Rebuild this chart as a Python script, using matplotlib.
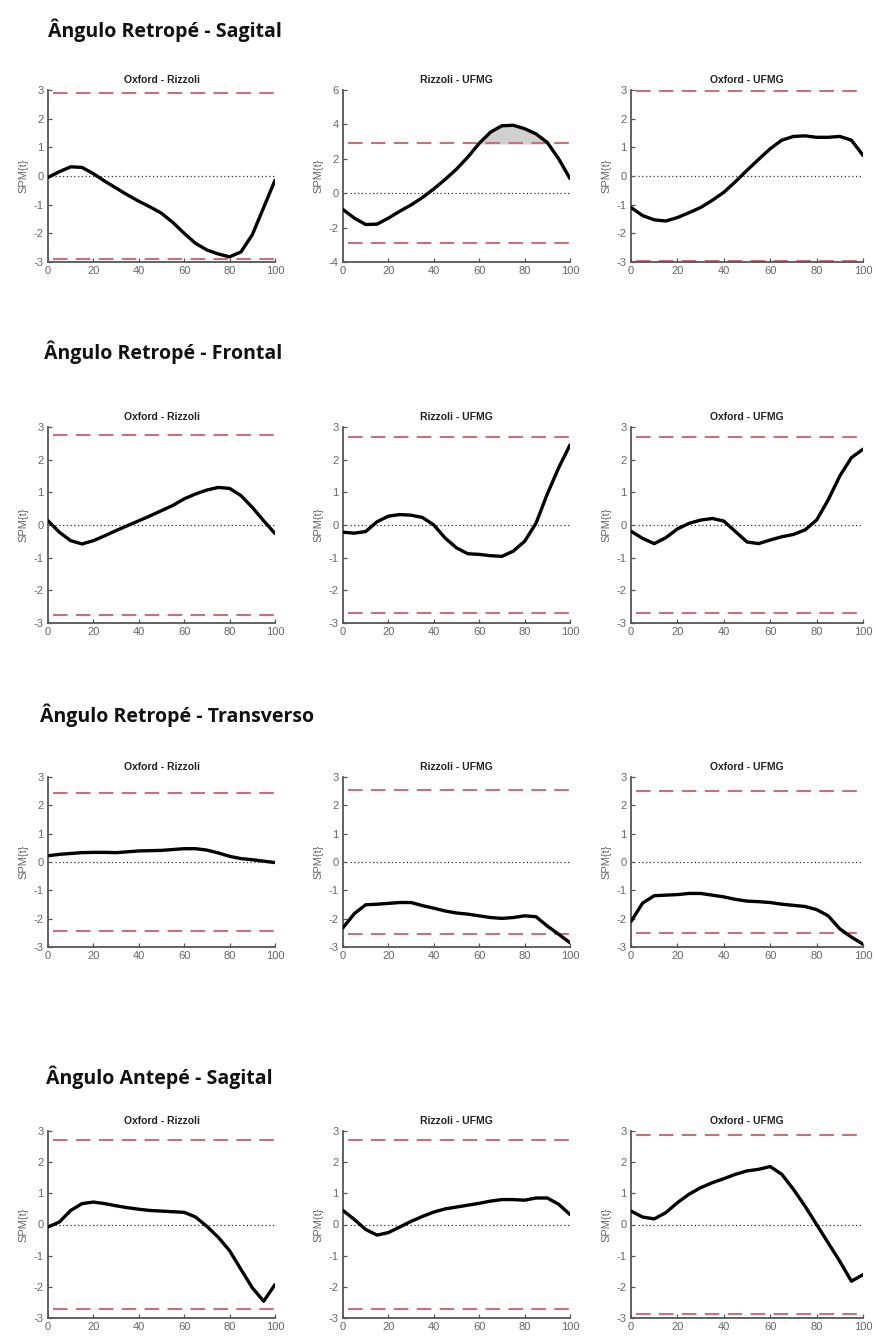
import numpy as np
import matplotlib.pyplot as plt

plt.rcParams['axes.unicode_minus'] = False

# eixo x (% do ciclo)
x = [0, 5, 10, 15, 20, 25, 30, 35, 40, 45, 50, 55, 60, 65, 70, 75, 80, 85, 90, 95, 100]

section_titles = ["Ângulo Retropé - Sagital", "Ângulo Retropé - Frontal",
                  "Ângulo Retropé - Transverso", "Ângulo Antepé - Sagital"]
panel_titles = ["Oxford - Rizzoli", "Rizzoli - UFMG", "Oxford - UFMG"]

# Retropé - Sagital
rs_oxf_riz = [-0.05, 0.15, 0.32, 0.3, 0.08, -0.18, -0.42, -0.66, -0.88, -1.08, -1.3,
              -1.62, -2.0, -2.35, -2.58, -2.72, -2.82, -2.65, -2.05, -1.1, -0.15]
rs_riz_ufmg = [-0.95, -1.45, -1.82, -1.8, -1.45, -1.05, -0.68, -0.25, 0.25, 0.8, 1.4,
               2.1, 2.9, 3.55, 3.92, 3.95, 3.75, 3.45, 2.95, 2.0, 0.85]
rs_oxf_ufmg = [-1.1, -1.38, -1.53, -1.57, -1.45, -1.28, -1.1, -0.85, -0.57, -0.2, 0.2,
               0.58, 0.95, 1.25, 1.38, 1.4, 1.35, 1.35, 1.38, 1.25, 0.72]

# Retropé - Frontal
rf_oxf_riz = [0.13, -0.22, -0.48, -0.58, -0.48, -0.33, -0.17, -0.02, 0.13, 0.28, 0.44,
              0.6, 0.8, 0.95, 1.07, 1.15, 1.12, 0.9, 0.54, 0.13, -0.26]
rf_riz_ufmg = [-0.22, -0.25, -0.2, 0.1, 0.27, 0.32, 0.3, 0.23, 0.0, -0.4, -0.7,
               -0.88, -0.9, -0.94, -0.96, -0.8, -0.5, 0.05, 0.95, 1.75, 2.45]
rf_oxf_ufmg = [-0.19, -0.41, -0.57, -0.39, -0.12, 0.05, 0.15, 0.2, 0.12, -0.2, -0.52,
               -0.57, -0.46, -0.36, -0.29, -0.15, 0.15, 0.77, 1.5, 2.06, 2.32]

# Retropé - Transverso
rt_oxf_riz = [0.22, 0.27, 0.3, 0.33, 0.34, 0.34, 0.33, 0.36, 0.39, 0.4, 0.41,
              0.44, 0.47, 0.47, 0.42, 0.32, 0.2, 0.12, 0.08, 0.03, -0.02]
rt_riz_ufmg = [-2.32, -1.82, -1.51, -1.49, -1.46, -1.43, -1.43, -1.54, -1.63, -1.73, -1.8,
               -1.84, -1.9, -1.96, -1.99, -1.96, -1.9, -1.93, -2.26, -2.55, -2.85]
rt_oxf_ufmg = [-2.1, -1.45, -1.19, -1.17, -1.15, -1.11, -1.11, -1.17, -1.23, -1.32, -1.38,
               -1.4, -1.43, -1.49, -1.53, -1.57, -1.68, -1.9, -2.36, -2.65, -2.9]

# Antepé - Sagital
as_oxf_riz = [-0.08, 0.08, 0.45, 0.67, 0.72, 0.67, 0.6, 0.54, 0.49, 0.45, 0.43,
              0.41, 0.39, 0.24, -0.06, -0.41, -0.84, -1.44, -2.03, -2.46, -1.93]
as_riz_ufmg = [0.45, 0.16, -0.16, -0.34, -0.26, -0.08, 0.1, 0.26, 0.4, 0.5, 0.56,
               0.62, 0.68, 0.75, 0.8, 0.8, 0.78, 0.85, 0.85, 0.65, 0.32]
as_oxf_ufmg = [0.43, 0.24, 0.18, 0.38, 0.7, 0.97, 1.18, 1.34, 1.47, 1.61, 1.72,
               1.77, 1.86, 1.61, 1.13, 0.59, 0.0, -0.59, -1.18, -1.82, -1.61]

curves = [[rs_oxf_riz, rs_riz_ufmg, rs_oxf_ufmg],
          [rf_oxf_riz, rf_riz_ufmg, rf_oxf_ufmg],
          [rt_oxf_riz, rt_riz_ufmg, rt_oxf_ufmg],
          [as_oxf_riz, as_riz_ufmg, as_oxf_ufmg]]

# limiar crítico t*
thresholds = [[2.88, 2.9, 2.95],
              [2.75, 2.7, 2.7],
              [2.42, 2.55, 2.52],
              [2.7, 2.72, 2.88]]

W, H = 876, 1340
fig = plt.figure(figsize=(W / 100, H / 100), dpi=100)

col_left = [48, 343, 631]
col_width = [227, 227, 232]
row_top = [90, 427, 777, 1131]
row_bottom = [262, 623, 947, 1318]
title_y = [30, 352, 715, 1077]
title_x = [48, 44, 40, 46]

for r in range(4):
    fig.text(title_x[r] / W, 1 - title_y[r] / H, section_titles[r],
             fontsize=14, fontweight='bold', family='Open Sans',
             ha='left', va='center', color='#111111')
    for c in range(3):
        ax = fig.add_axes([col_left[c] / W, 1 - row_bottom[r] / H,
                           col_width[c] / W, (row_bottom[r] - row_top[r]) / H])
        y = curves[r][c]
        thr = thresholds[r][c]
        ax.plot([3, 100], [0, 0], color='#333333', linestyle=(0, (1, 2)), linewidth=0.9)
        ax.axhline(thr, color='#c9707a', linestyle=(0, (7, 4)), linewidth=1.5, xmin=0.02)
        ax.axhline(-thr, color='#c9707a', linestyle=(0, (7, 4)), linewidth=1.5, xmin=0.02)
        if r == 0 and c == 1:
            ax.fill_between(x, thr, y, where=np.array(y) > thr, interpolate=True,
                            color='#d0d0d0', zorder=1)
        ax.plot(x, y, color='black', linewidth=2.4, solid_capstyle='round',
                solid_joinstyle='round', zorder=3)

        ax.set_xlim(0, 100)
        if r == 0 and c == 1:
            ax.set_ylim(-4, 6)
            ax.set_yticks([-4, -2, 0, 2, 4, 6])
        else:
            ax.set_ylim(-3, 3)
            ax.set_yticks([-3, -2, -1, 0, 1, 2, 3])
        ax.set_xticks([0, 20, 40, 60, 80, 100])
        for s in ['top', 'right']:
            ax.spines[s].set_visible(False)
        for s in ['left', 'bottom']:
            ax.spines[s].set_color('#555555')
            ax.spines[s].set_linewidth(1.3)
        ax.tick_params(direction='in', length=3, width=0.9, colors='#555555',
                       labelsize=8, labelcolor='#666666', pad=3)
        for lab in ax.get_xticklabels() + ax.get_yticklabels():
            lab.set_family('Liberation Sans')
        ax.set_ylabel('SPM{t}', fontsize=8, color='#666666', family='Liberation Sans',
                      labelpad=4)
        ax.set_title(panel_titles[c], fontsize=7.5, fontweight='bold',
                     family='Liberation Sans', color='#222222', pad=5)

fig.savefig('out.png', dpi=100)
